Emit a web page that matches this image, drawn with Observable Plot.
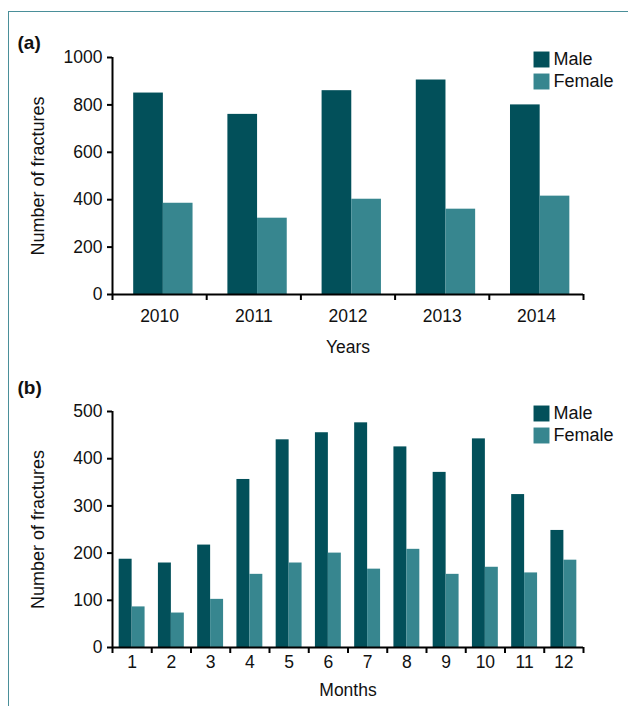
<!DOCTYPE html>
<html>
<head>
<meta charset="utf-8">
<script src="https://cdn.jsdelivr.net/npm/d3@7"></script>
<script src="https://cdn.jsdelivr.net/npm/@observablehq/plot@0.6"></script>
<style>
  body { margin: 0; background: #fff; }
  #page { position: relative; width: 628px; height: 706px; overflow: hidden;
          font-family: "Liberation Sans", Arial, sans-serif; }
  #border { position: absolute; left: 8px; top: 11px; right: -4px; bottom: -4px;
            border-top: 1px solid #4a8f99; border-left: 1px solid #4a8f99; }
  .panel { position: absolute; left: 0; }
</style>
</head>
<body>
<div id="page">
  <div id="border"></div>
  <div class="panel" id="panel-a" style="top:0px"></div>
  <div class="panel" id="panel-b" style="top:353px"></div>
</div>
<script>
// Fractures by year
const years = ["2010", "2011", "2012", "2013", "2014"];
const maleByYear = [850, 760, 860, 905, 800];
const femaleByYear = [385, 322, 402, 360, 415];

// Fractures by month
const months = ["1", "2", "3", "4", "5", "6", "7", "8", "9", "10", "11", "12"];
const maleByMonth = [187, 179, 217, 356, 440, 455, 476, 425, 371, 442, 324, 248];
const femaleByMonth = [86, 73, 102, 155, 179, 200, 166, 208, 155, 170, 158, 185];

const series = ["Male", "Female"];
const seriesColors = ["#02505a", "#37868f"];

const FONT = "'Liberation Sans', Arial, sans-serif";
const TICK_FONT = 17.5;

function panel({tag, tagDy, cats, male, female, yMax, yStep, xLabel, slots,
                labelPad, xLabelDy, height, marginTop, marginBottom}) {
  const n = cats.length;
  const rows = cats.flatMap((c, i) => [
    {i, sex: "Male", value: male[i]},
    {i, sex: "Female", value: female[i]}
  ]);
  return Plot.plot({
    width: 628,
    height,
    marginLeft: 112,
    marginRight: 45,
    marginTop,
    marginBottom,
    style: {fontFamily: FONT, fontSize: "17px", color: "#111", background: "transparent", overflow: "visible"},
    x: {domain: [0, n], axis: null},
    y: {domain: [0, yMax], axis: null},
    color: {domain: series, range: seriesColors},
    marks: [
      // grouped bars: each category occupies one unit of x
      Plot.rectY(rows, {
        x1: d => d.i + slots[d.sex][0],
        x2: d => d.i + slots[d.sex][1],
        y: "value",
        fill: "sex"
      }),
      // axis lines
      Plot.ruleY([0], {stroke: "#000", strokeWidth: 2}),
      Plot.ruleX([0], {stroke: "#000", strokeWidth: 2}),
      // category boundary ticks
      Plot.axisX({ticks: d3.range(n + 1), tickFormat: () => "", tickSize: 6,
                  strokeWidth: 2, stroke: "#000", label: null}),
      // category labels centred under each group
      Plot.axisX({ticks: d3.range(n).map(i => i + 0.5), tickFormat: d => cats[Math.floor(d)],
                  tickSize: 0, tickPadding: labelPad, fontSize: TICK_FONT, fill: "#111", label: null}),
      Plot.axisY({ticks: d3.range(0, yMax + 1, yStep), tickFormat: d => String(d),
                  tickSize: 5, tickPadding: 5, strokeWidth: 2, stroke: "#000",
                  fontSize: TICK_FONT, fill: "#111", label: null}),
      // axis titles
      Plot.text([xLabel], {frameAnchor: "bottom", dy: xLabelDy, lineAnchor: "middle",
                           fontSize: 17.5, fill: "#111"}),
      Plot.text(["Number of fractures"], {frameAnchor: "left", dx: -74, rotate: -90,
                                           textAnchor: "middle", lineAnchor: "middle",
                                           fontSize: 18, fill: "#111"}),
      // panel tag
      Plot.text([tag], {frameAnchor: "top-left", dx: -95, dy: tagDy, textAnchor: "start",
                        lineAnchor: "middle", fontSize: 19, fontWeight: "bold", fill: "#111"}),
      // legend
      ...series.flatMap((s, k) => [
        Plot.dot([s], {frameAnchor: "top-right", dx: -42, dy: 2 + 22 * k, symbol: "square",
                       r: 9, fill: seriesColors[k]}),
        Plot.text([s], {frameAnchor: "top-right", dx: -30, dy: 2 + 22 * k, textAnchor: "start",
                        lineAnchor: "middle", fontSize: 18, fill: "#111"})
      ])
    ]
  });
}

document.getElementById("panel-a").append(panel({
  tag: "(a)", tagDy: -15,
  cats: years, male: maleByYear, female: femaleByYear,
  yMax: 1000, yStep: 200, xLabel: "Years",
  slots: {Male: [0.225, 0.54], Female: [0.54, 0.855]},
  labelPad: 15, xLabelDy: 53, height: 365, marginTop: 57, marginBottom: 71
}));

document.getElementById("panel-b").append(panel({
  tag: "(b)", tagDy: -24,
  cats: months, male: maleByMonth, female: femaleByMonth,
  yMax: 500, yStep: 100, xLabel: "Months",
  slots: {Male: [0.17, 0.5], Female: [0.5, 0.83]},
  labelPad: 8, xLabelDy: 43, height: 353, marginTop: 58, marginBottom: 59
}));
</script>
</body>
</html>
